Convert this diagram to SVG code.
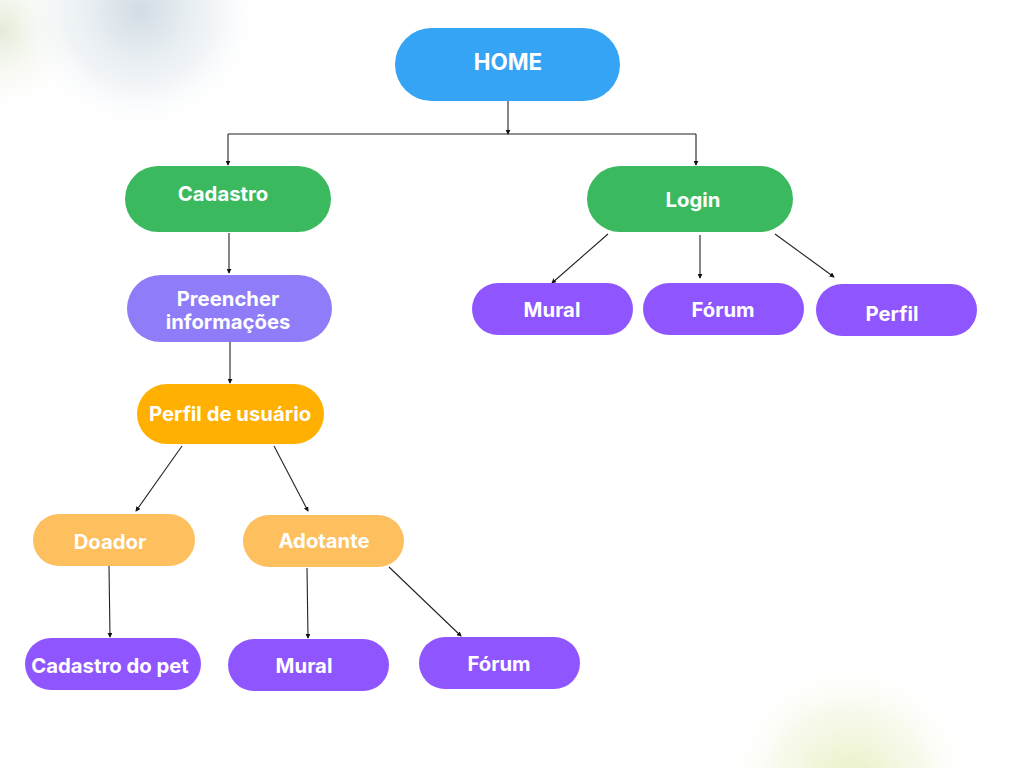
<svg xmlns="http://www.w3.org/2000/svg" width="1024" height="768" viewBox="0 0 1024 768">
<defs>
<radialGradient id="gTL" cx="140" cy="10" r="125" gradientUnits="userSpaceOnUse">
<stop offset="0" stop-color="#c8d6de" stop-opacity="0.85"/>
<stop offset="0.6" stop-color="#e3eaf0" stop-opacity="0.5"/>
<stop offset="1" stop-color="#ffffff" stop-opacity="0"/>
</radialGradient>
<radialGradient id="gTL2" cx="0" cy="30" r="90" gradientUnits="userSpaceOnUse">
<stop offset="0" stop-color="#dfe7cf" stop-opacity="0.85"/>
<stop offset="1" stop-color="#ffffff" stop-opacity="0"/>
</radialGradient>
<radialGradient id="gBR" cx="850" cy="785" r="125" gradientUnits="userSpaceOnUse">
<stop offset="0" stop-color="#e6efbd" stop-opacity="0.95"/>
<stop offset="0.6" stop-color="#f1f5dc" stop-opacity="0.55"/>
<stop offset="1" stop-color="#ffffff" stop-opacity="0"/>
</radialGradient>
<marker id="arr" viewBox="0 0 6 6" refX="5" refY="3" markerWidth="5" markerHeight="5" markerUnits="userSpaceOnUse" orient="auto">
<path d="M0,0 L6,3 L0,6 z" fill="#111"/>
</marker>
<style>
.t{font-family:Inter,"Noto Sans","Liberation Sans",sans-serif;font-weight:700;fill:#ffffff;text-anchor:middle;dominant-baseline:central;font-size:20.3px}
.c{stroke:#222;stroke-width:1.1;fill:none}
.a{marker-end:url(#arr)}
</style>
</defs>
<rect width="1024" height="768" fill="#ffffff"/>
<rect width="1024" height="768" fill="url(#gTL2)"/>
<rect width="1024" height="768" fill="url(#gTL)"/>
<rect width="1024" height="768" fill="url(#gBR)"/>

<g id="connectors">
<path class="c a" d="M508,101 L508,134"/>
<path class="c" d="M228,134 L696,134"/>
<path class="c a" d="M228,134 L228,165"/>
<path class="c a" d="M696,134 L696,165"/>
<path class="c a" d="M229,233 L229,273"/>
<path class="c a" d="M230,342 L230,383"/>
<path class="c a" d="M608,234 L552,283"/>
<path class="c a" d="M700,235 L700,278"/>
<path class="c a" d="M775,234 L834,277"/>
<path class="c a" d="M182,446 L136,511"/>
<path class="c a" d="M274,446 L308,511"/>
<path class="c a" d="M109,566 L110,637"/>
<path class="c a" d="M307,568 L308,638"/>
<path class="c a" d="M389,567 L461,636"/>
</g>

<g id="home"><rect x="395" y="28" width="225" height="73" rx="36.5" fill="#36a4f4"/><text class="t" x="508" y="61" style="font-size:22.4px">HOME</text></g>
<g id="cadastro"><rect x="125" y="166" width="206" height="66" rx="33" fill="#3bb95e"/><text class="t" x="223" y="193">Cadastro</text></g>
<g id="login"><rect x="587" y="166" width="206" height="66" rx="33" fill="#3bb95e"/><text class="t" x="693" y="199">Login</text></g>
<g id="preencher"><rect x="127" y="275" width="205" height="67" rx="33.5" fill="#8e7cf8"/><text class="t" x="228" y="298">Preencher</text><text class="t" x="228" y="321">informações</text></g>
<g id="perfil-usuario"><rect x="137" y="384" width="187" height="60" rx="30" fill="#ffb000"/><text class="t" x="230" y="413">Perfil de usuário</text></g>
<g id="mural-login"><rect x="472" y="283" width="161" height="52" rx="26" fill="#8f56ff"/><text class="t" x="552" y="309">Mural</text></g>
<g id="forum-login"><rect x="643" y="283" width="161" height="52" rx="26" fill="#8f56ff"/><text class="t" x="723" y="309">Fórum</text></g>
<g id="perfil-login"><rect x="816" y="284" width="161" height="52" rx="26" fill="#8f56ff"/><text class="t" x="892" y="313">Perfil</text></g>
<g id="doador"><rect x="33" y="514" width="162" height="52" rx="26" fill="#febf5f"/><text class="t" x="110" y="541">Doador</text></g>
<g id="adotante"><rect x="243" y="515" width="161" height="52" rx="26" fill="#febf5f"/><text class="t" x="324" y="540">Adotante</text></g>
<g id="cadastro-pet"><rect x="25" y="638" width="176" height="52" rx="26" fill="#8f56ff"/><text class="t" x="110" y="665">Cadastro do pet</text></g>
<g id="mural-adotante"><rect x="228" y="639" width="161" height="52" rx="26" fill="#8f56ff"/><text class="t" x="304" y="665">Mural</text></g>
<g id="forum-adotante"><rect x="419" y="637" width="161" height="52" rx="26" fill="#8f56ff"/><text class="t" x="499" y="663">Fórum</text></g>
</svg>
